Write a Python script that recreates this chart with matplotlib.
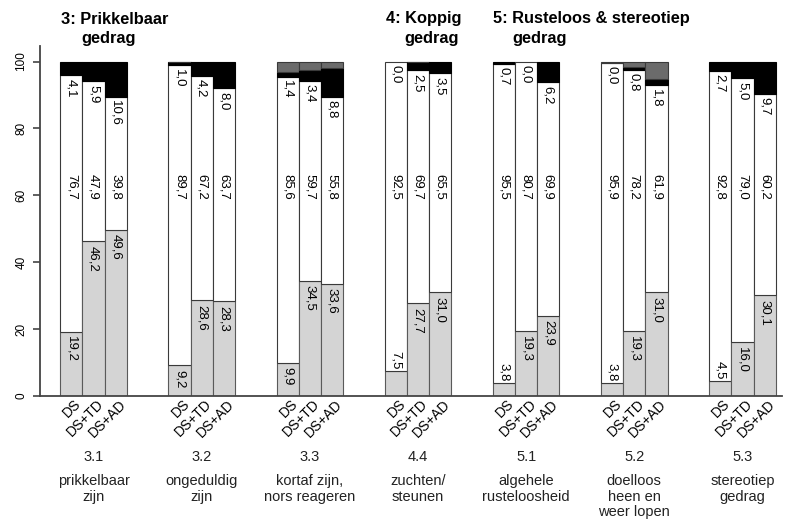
import numpy as np
import matplotlib
matplotlib.use("Agg")
import matplotlib.pyplot as plt
from matplotlib.transforms import blended_transform_factory

plt.rcParams['font.family'] = ['Liberation Sans', 'DejaVu Sans']

items = ["3.1", "3.2", "3.3", "4.4", "5.1", "5.2", "5.3"]
descriptions = ["prikkelbaar\nzijn", "ongeduldig\nzijn", "kortaf zijn,\nnors reageren",
                "zuchten/\nsteunen", "algehele\nrusteloosheid", "doelloos\nheen en\nweer lopen",
                "stereotiep\ngedrag"]
groups = ["DS", "DS+TD", "DS+AD"]

# per item: values for DS, DS+TD, DS+AD
light = [[19.2, 46.2, 49.6], [9.2, 28.6, 28.3], [9.9, 34.5, 33.6], [7.5, 27.7, 31.0],
         [3.8, 19.3, 23.9], [3.8, 19.3, 31.0], [4.5, 16.0, 30.1]]
white = [[76.7, 47.9, 39.8], [89.7, 67.2, 63.7], [85.6, 59.7, 55.8], [92.5, 69.7, 65.5],
         [95.5, 80.7, 69.9], [95.9, 78.2, 61.9], [92.8, 79.0, 60.2]]
black = [[4.1, 5.9, 10.6], [1.0, 4.2, 8.0], [1.4, 3.4, 8.8], [0.0, 2.5, 3.5],
         [0.7, 0.0, 6.2], [0.0, 0.8, 1.8], [2.7, 5.0, 9.7]]
darkgray = [[0.0, 0.0, 0.0], [0.1, 0.0, 0.0], [3.1, 2.4, 1.8], [0.0, 0.1, 0.0],
            [0.0, 0.0, 0.0], [0.3, 1.7, 5.3], [0.0, 0.0, 0.0]]

headings = [("3: Prikkelbaar", "gedrag", 61, 81),
            ("4: Koppig", "gedrag", 386, 404),
            ("5: Rusteloos & stereotiep", "gedrag", 493, 512)]

W, H = 788, 526
fig = plt.figure(figsize=(W / 100, H / 100), dpi=100)
ax = fig.add_axes([40 / W, 1 - 396 / H, (782 - 40) / W, (396 - 45.5) / H])

pitch = 4.87
bw = 1.0
light_c = '#d4d4d4'
dark_c = '#6b6b6b'
edge = '#3a3a3a'
lw = 0.8
fs = 9.5

def fmt(v):
    return f"{v:.1f}".replace('.', ',')

for i in range(len(items)):
    for j in range(3):
        x = i * pitch + (j - 1) * bw
        l, w, b, d = light[i][j], white[i][j], black[i][j], darkgray[i][j]
        ax.bar(x, l, bw, bottom=0, color=light_c, edgecolor='#5a5a5a', linewidth=lw)
        ax.bar(x, w, bw, bottom=l, color='white', edgecolor=edge, linewidth=lw)
        if b > 0:
            ax.bar(x, b, bw, bottom=l + w, color='black', edgecolor='black', linewidth=lw)
        if d > 0:
            ax.bar(x, d, bw, bottom=l + w + b, color=dark_c, edgecolor=edge, linewidth=lw)
        # labels
        if l < 8:
            ax.text(x, l + 0.6, fmt(l), rotation=270, ha='center', va='bottom', fontsize=fs)
        else:
            ax.text(x, l - 1.3, fmt(l), rotation=270, ha='center', va='top', fontsize=fs)
        ax.text(x, 62.5, fmt(w), rotation=270, ha='center', va='center', fontsize=fs)
        ax.text(x, l + w - 1.0, fmt(b), rotation=270, ha='center', va='top', fontsize=fs)
        # group tick label
        ax.text(x + 0.35, -1.8, groups[j], rotation=45, ha='right', va='center',
                rotation_mode='anchor', fontsize=10)

ax.set_ylim(0, 104.8)
ax.set_xlim(-2.41, 31.0)
ax.set_yticks([0, 20, 40, 60, 80, 100])
ax.set_yticklabels(['0', '20', '40', '60', '80', '100'], rotation=90, va='center', fontsize=8.5)
ax.tick_params(axis='y', length=5, width=1.2, color='#444444', pad=4)
ax.set_xticks([])
for s in ['top', 'right']:
    ax.spines[s].set_visible(False)
for s in ['left', 'bottom']:
    ax.spines[s].set_color('#444444')
    ax.spines[s].set_linewidth(1.3)

tr = blended_transform_factory(ax.transData, fig.transFigure)
for i in range(len(items)):
    xc = i * pitch
    ax.text(xc, 1 - 457 / H, items[i], transform=tr, ha='center', va='center', fontsize=10.5,
            color='#222222')
    ax.text(xc, 1 - 474 / H, descriptions[i], transform=tr, ha='center', va='top',
            fontsize=10.5, linespacing=1.15, color='#222222')

for l1, l2, x1, x2 in headings:
    fig.text(x1 / W, 1 - 19 / H, l1, ha='left', va='center', fontsize=11.8, fontweight='bold')
    fig.text(x2 / W, 1 - 39 / H, l2, ha='left', va='center', fontsize=11.8, fontweight='bold')

fig.savefig("out.png", dpi=100)
